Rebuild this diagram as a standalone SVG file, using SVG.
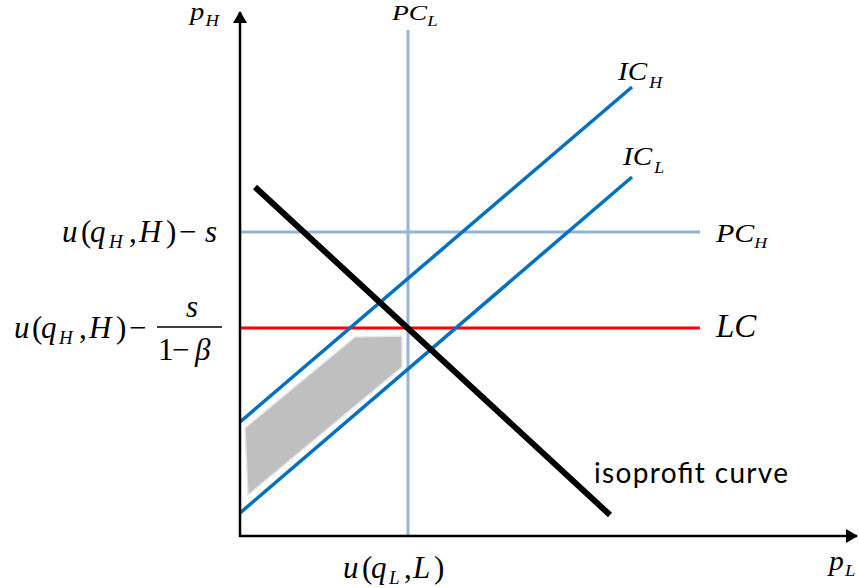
<svg xmlns="http://www.w3.org/2000/svg" width="859" height="588" viewBox="0 0 859 588">
<style>
.m{font-family:"Liberation Serif","Times New Roman",serif;fill:#000}
.i{font-style:italic}
.ax{stroke:#000;stroke-width:2.5;fill:none}
.pc{stroke:#95b3d7;stroke-width:3;fill:none}
.ic{stroke:#0070c0;stroke-width:3.5;fill:none}
</style>
<defs>
<marker id="ah" viewBox="0 0 12 14" refX="11" refY="7" markerWidth="12" markerHeight="14" markerUnits="userSpaceOnUse" orient="auto">
<path d="M0,0 L12,7 L0,14 Z" fill="#000"/>
</marker>
</defs>
<rect width="859" height="588" fill="#fff"/>
<g id="region">
<polygon points="245,428 355,337 402,336 402,367 248,495" fill="#bfbfbf" stroke="#e6e6e6" stroke-width="1.5"/>
</g>
<g id="connectors">
<line class="pc" x1="408" y1="30" x2="408" y2="536"/>
<line class="pc" x1="240" y1="232" x2="700" y2="232"/>
<line x1="240" y1="328" x2="700" y2="328" stroke="#ff0000" stroke-width="3"/>
<line class="ic" x1="240" y1="422" x2="632" y2="87"/>
<line class="ic" x1="240" y1="513" x2="632" y2="177"/>
<line x1="255" y1="187" x2="610" y2="515" stroke="#000" stroke-width="6"/>
<line class="ax" x1="240" y1="537" x2="240" y2="12" marker-end="url(#ah)"/>
<line class="ax" x1="239" y1="536" x2="857" y2="536" marker-end="url(#ah)"/>
</g>
<g id="labels">
<text class="m i" transform="translate(190,20) scale(1.1,1)" font-size="26">p<tspan font-size="17" dx="1" dy="6">H</tspan></text>
<text class="m i" transform="translate(392,20) scale(1.25,1)" font-size="22">PC<tspan font-size="15" dy="6">L</tspan></text>
<text class="m i" transform="translate(618,80) scale(1.12,1)" font-size="26">IC<tspan font-size="16" dx="2" dy="8">H</tspan></text>
<text class="m i" transform="translate(623,165) scale(1.12,1)" font-size="26">IC<tspan font-size="16" dx="2" dy="8">L</tspan></text>
<text class="m i" transform="translate(716,242) scale(1.2,1)" font-size="25">PC<tspan font-size="15" dy="6">H</tspan></text>
<text class="m i" x="716" y="337" font-size="33">LC</text>
<text x="594" y="483" font-family="Lato, 'Liberation Sans', sans-serif" font-size="28" textLength="194" lengthAdjust="spacing">isoprofit curve</text>
<text class="m" font-size="31"><tspan class="i" x="62" y="242">u</tspan><tspan x="81" y="242">(</tspan><tspan class="i" x="90" y="242">q</tspan><tspan class="i" x="109" y="248" font-size="19">H</tspan><tspan x="129" y="242">,</tspan><tspan class="i" x="139" y="242">H</tspan><tspan x="166" y="242">)</tspan><tspan x="179" y="242">−</tspan><tspan class="i" x="205" y="242">s</tspan></text>
<text class="m" font-size="31"><tspan class="i" x="14" y="338">u</tspan><tspan x="32" y="338">(</tspan><tspan class="i" x="41" y="338">q</tspan><tspan class="i" x="59" y="344" font-size="19">H</tspan><tspan x="79" y="338">,</tspan><tspan class="i" x="89" y="338">H</tspan><tspan x="116" y="338">)</tspan><tspan x="129" y="338">−</tspan></text>
<text class="m i" x="186" y="317" font-size="31">s</text>
<text class="m" font-size="31"><tspan x="158" y="360">1</tspan><tspan x="172" y="360">−</tspan><tspan class="i" x="195" y="360">β</tspan></text>
<line x1="157" y1="327" x2="222" y2="327" stroke="#000" stroke-width="1.5"/>
<text class="m" font-size="31"><tspan class="i" x="343" y="578">u</tspan><tspan x="362" y="578">(</tspan><tspan class="i" x="371" y="578">q</tspan><tspan class="i" x="389" y="584" font-size="19">L</tspan><tspan x="404" y="578">,</tspan><tspan class="i" x="413" y="578">L</tspan><tspan x="434" y="578">)</tspan></text>
<text class="m i" transform="translate(829,570) scale(1.1,1)" font-size="27">p<tspan font-size="17" dx="1" dy="6">L</tspan></text>
</g>
</svg>
